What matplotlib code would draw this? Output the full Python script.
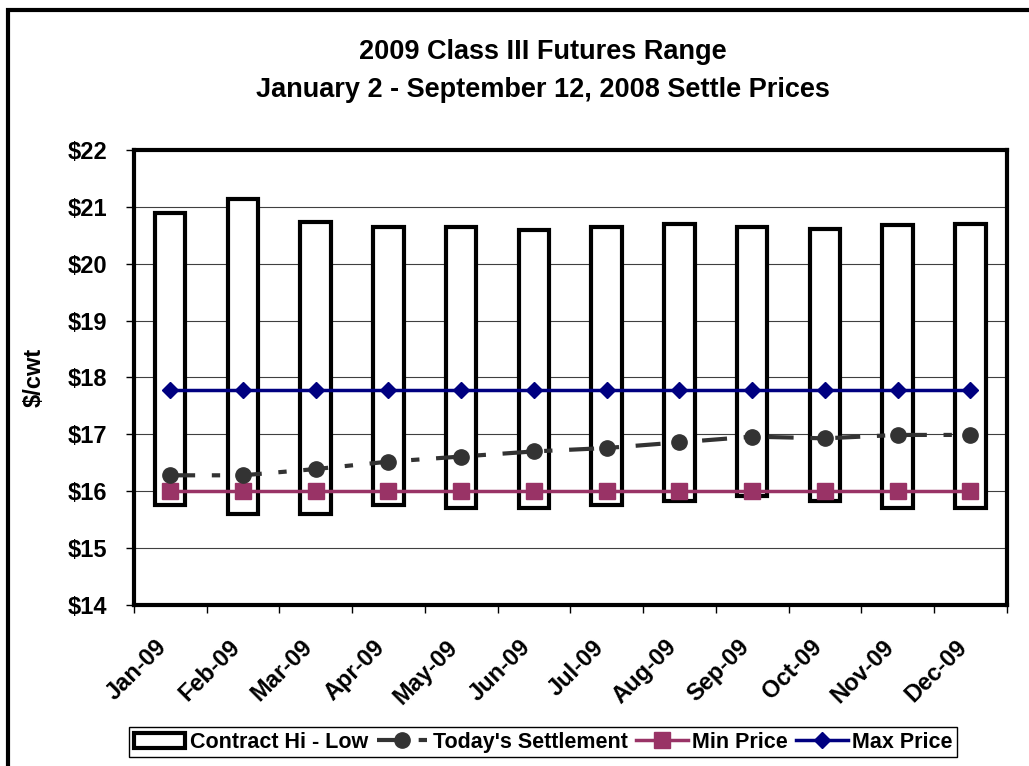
import numpy as np
import matplotlib.pyplot as plt
import matplotlib.transforms as mtransforms
from matplotlib.patches import Rectangle
from matplotlib.lines import Line2D

months = ['Jan-09', 'Feb-09', 'Mar-09', 'Apr-09', 'May-09', 'Jun-09',
          'Jul-09', 'Aug-09', 'Sep-09', 'Oct-09', 'Nov-09', 'Dec-09']
contract_hi = [20.89, 21.13, 20.73, 20.64, 20.64, 20.59, 20.64, 20.70, 20.64, 20.61, 20.68, 20.70]
contract_lo = [15.76, 15.60, 15.60, 15.76, 15.70, 15.70, 15.76, 15.82, 15.92, 15.82, 15.70, 15.70]
settlement = [16.28, 16.28, 16.39, 16.52, 16.61, 16.70, 16.76, 16.86, 16.96, 16.93, 16.99, 16.99]
min_price = [16.00] * 12
max_price = [17.78] * 12
yticks = [14, 15, 16, 17, 18, 19, 20, 21, 22]

plt.rcParams['font.family'] = ['Liberation Sans', 'DejaVu Sans']
plt.rcParams['font.weight'] = 'bold'

fig = plt.figure(figsize=(10.29, 7.66), dpi=100)
ax = fig.add_axes([0.130, 0.2102, 0.8485, 0.594])

x = np.arange(len(months))
hi = np.array(contract_hi)
lo = np.array(contract_lo)
ax.bar(x, hi - lo, bottom=lo, width=0.42, facecolor='white', edgecolor='black', linewidth=3, zorder=2)

ax.plot(x, settlement, color='#333333', lw=3, dashes=(6, 4, 2, 4), marker='o', ms=11, zorder=4)
ax.plot(x, min_price, color='#993366', lw=2.5, marker='s', ms=11, zorder=3)
ax.plot(x, max_price, color='#000080', lw=2.5, marker='D', ms=8, zorder=3)

ax.set_xlim(-0.5, 11.5)
ax.set_ylim(14, 22)
ax.set_yticks(yticks)
ax.set_yticklabels(['$%d' % v for v in yticks], fontsize=17, fontweight='bold')
ax.yaxis.grid(True, color='#404040', lw=0.8)
ax.set_axisbelow(True)

ax.set_xticks(np.arange(-0.5, 12, 1))
ax.set_xticklabels([])
ax.set_xticks(x, minor=True)
ax.set_xticklabels(months, minor=True, rotation=45, ha='right', rotation_mode='anchor',
                   fontsize=17, fontweight='bold')
ax.tick_params(axis='x', which='minor', length=0, pad=22)
ax.tick_params(axis='x', which='major', length=6, width=1)
ax.tick_params(axis='y', length=6, width=1, pad=13)
for s in ax.spines.values():
    s.set_linewidth(3)

# monatsnamen etwas nach links schieben, wie in excel
shift = mtransforms.ScaledTranslation(-15 / 100, 0, fig.dpi_scale_trans)
for lbl in ax.get_xticklabels(minor=True):
    lbl.set_transform(lbl.get_transform() + shift)

ax.set_ylabel('$/cwt', fontsize=17, fontweight='bold', labelpad=16)

fig.text(0.528, 0.932, '2009 Class III Futures Range', ha='center', va='center', fontsize=19.5, fontweight='bold')
fig.text(0.528, 0.882, 'January 2 - September 12, 2008 Settle Prices', ha='center', va='center',
         fontsize=19.5, fontweight='bold')

# rahmen um die ganze grafik
fig.patches.append(Rectangle((0.0078, -0.05), 1.1, 1.037, transform=fig.transFigure,
                             fill=False, edgecolor='black', lw=3))

handles = [
    Rectangle((0, 0), 1, 1, facecolor='white', edgecolor='black', lw=3),
    Line2D([], [], color='#333333', lw=3, dashes=(6, 4, 2, 4), marker='o', ms=11),
    Line2D([], [], color='#993366', lw=2.5, marker='s', ms=11),
    Line2D([], [], color='#000080', lw=2.5, marker='D', ms=8),
]
labels = ['Contract Hi - Low', "Today's Settlement", 'Min Price', 'Max Price']
leg = fig.legend(handles, labels, loc='center', bbox_to_anchor=(0.528, 0.031), ncol=4,
                 fancybox=False, edgecolor='black', framealpha=1, fontsize=15.5,
                 handlelength=2.4, handletextpad=0.2, columnspacing=0.4, borderpad=0.2)
leg.get_frame().set_linewidth(1)

fig.savefig('out.png', dpi=100)
